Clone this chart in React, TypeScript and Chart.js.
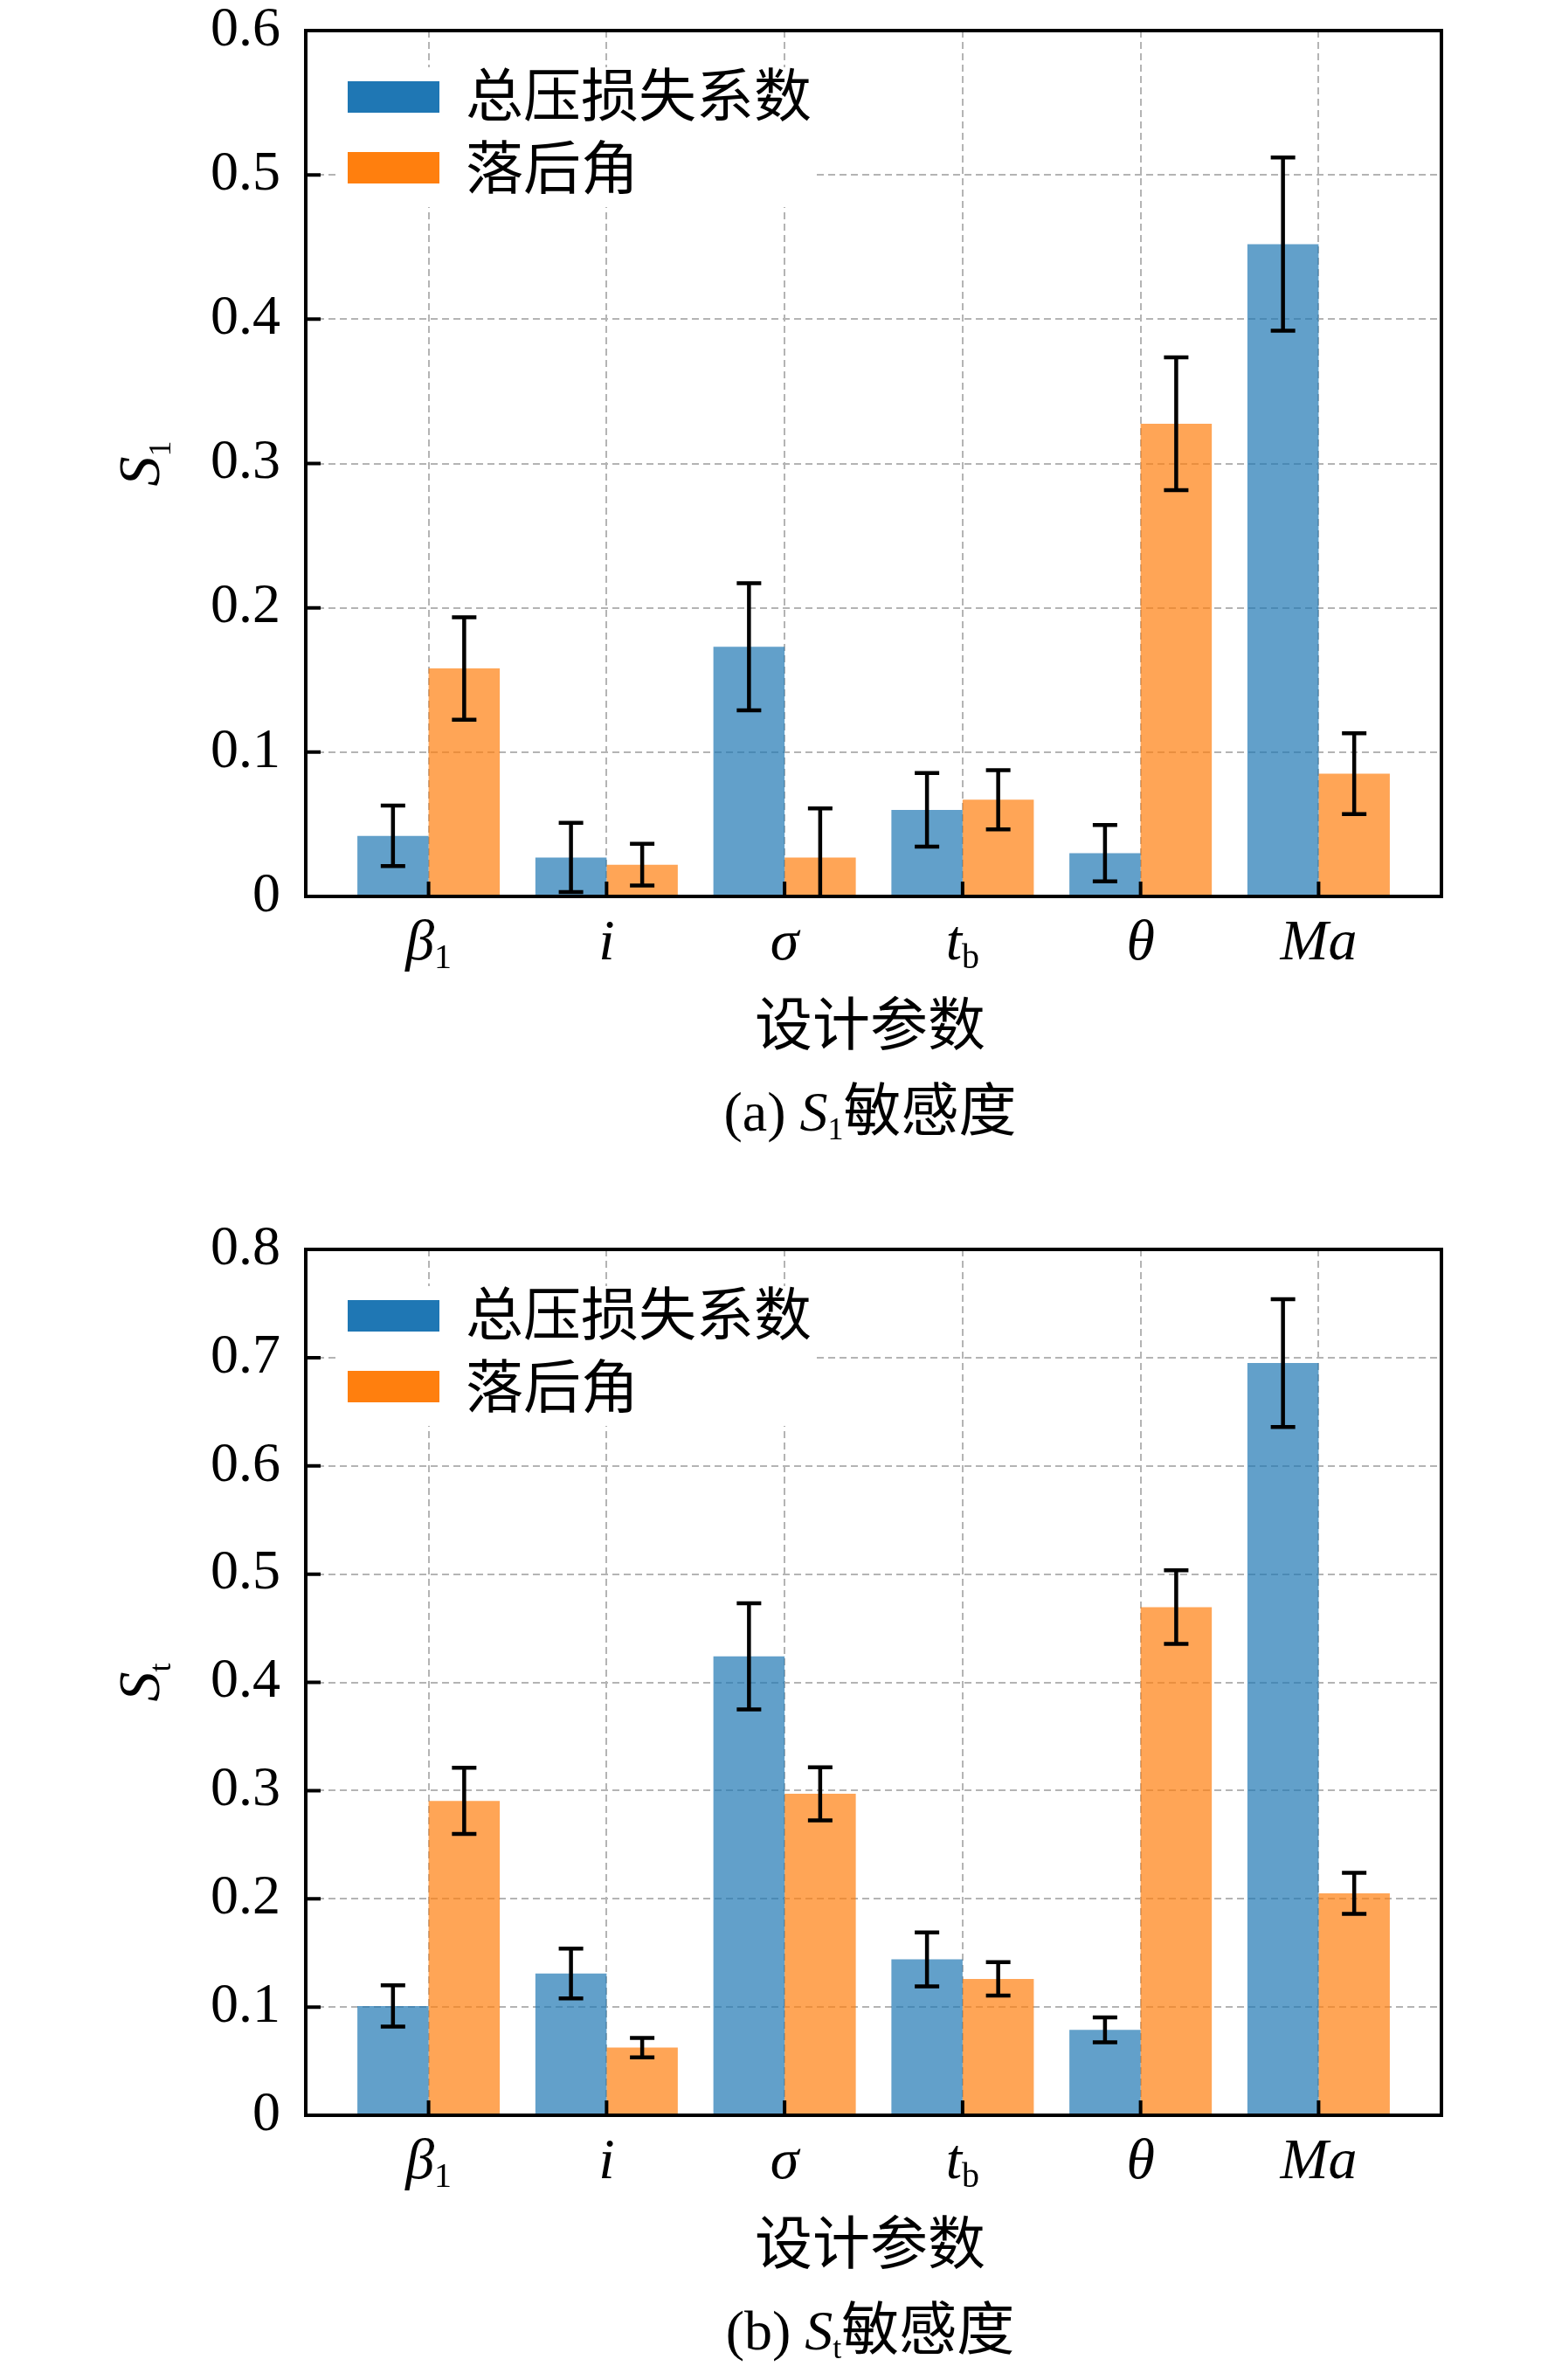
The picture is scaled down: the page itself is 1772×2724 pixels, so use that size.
import { useEffect, useRef } from "react";
import { Chart, registerables } from "chart.js";

Chart.register(...registerables);

// x categories: italic symbol + upright subscript
const tickMain = ["β", "i", "σ", "t", "θ", "Ma"];
const tickSub = ["1", "", "", "b", "", ""];
const seriesNames = ["总压损失系数", "落后角"];

// (a) first-order index S1
const s1Loss = [0.042, 0.027, 0.173, 0.06, 0.03, 0.452];
const s1LossErr = [0.021, 0.024, 0.044, 0.0255, 0.0195, 0.06];
const s1Dev = [0.158, 0.022, 0.027, 0.067, 0.3275, 0.085];
const s1DevErr = [0.0355, 0.0145, 0.034, 0.0205, 0.046, 0.028];

// (b) total index St
const stLoss = [0.101, 0.131, 0.424, 0.144, 0.079, 0.695];
const stLossErr = [0.019, 0.023, 0.049, 0.025, 0.0115, 0.059];
const stDev = [0.2905, 0.0625, 0.297, 0.126, 0.4695, 0.205];
const stDevErr = [0.0305, 0.009, 0.0245, 0.0155, 0.034, 0.019];

const SERIF = '"Liberation Serif", "Times New Roman", serif';
const CJK = '"Noto Sans CJK SC", sans-serif';
const barColors = ["rgba(31, 119, 180, 0.7)", "rgba(255, 127, 14, 0.7)"];
const patchColors = ["#1f77b4", "#ff7f0e"];
const gridColor = "#b4b4b4";

type Run = { text: string; font: string; dy?: number };

// draw several font runs on one baseline
const drawRuns = (
  ctx: CanvasRenderingContext2D,
  runs: Run[],
  x: number,
  y: number,
  align: "center" | "left"
) => {
  ctx.save();
  ctx.fillStyle = "#000";
  ctx.textBaseline = "alphabetic";
  ctx.textAlign = "left";
  const widths = runs.map((r) => {
    ctx.font = r.font;
    return ctx.measureText(r.text).width;
  });
  const total = widths.reduce((acc, w) => acc + w, 0);
  let cx = align === "center" ? x - total / 2 : x;
  runs.forEach((r, i) => {
    ctx.font = r.font;
    ctx.fillText(r.text, cx, y + (r.dy || 0));
    cx += widths[i];
  });
  ctx.restore();
};

type Props = {
  height: number;
  loss: number[];
  lossErr: number[];
  dev: number[];
  devErr: number[];
  yMax: number;
  sub: string;
  letter: string;
};

const SensitivityChart = ({ height, loss, lossErr, dev, devErr, yMax, sub, letter }: Props) => {
  const chartRef = useRef<HTMLCanvasElement>(null);
  const chartInstance = useRef<Chart | null>(null);

  useEffect(() => {
    if (!chartRef.current) return;
    if (chartInstance.current) chartInstance.current.destroy();

    const values = [loss, dev];
    const errors = [lossErr, devErr];

    const decor = {
      id: "decor",
      afterDatasetsDraw(chart: Chart) {
        const { ctx, chartArea: a } = chart;
        const x = chart.scales.x;
        const y = chart.scales.y;

        // error bars
        ctx.save();
        ctx.beginPath();
        ctx.rect(a.left, a.top, a.right - a.left, a.bottom - a.top);
        ctx.clip();
        ctx.strokeStyle = "#000";
        ctx.lineWidth = 4.5;
        values.forEach((vals, di) => {
          const meta = chart.getDatasetMeta(di);
          meta.data.forEach((bar: any, i: number) => {
            const top = y.getPixelForValue(vals[i] + errors[di][i]);
            const bot = y.getPixelForValue(vals[i] - errors[di][i]);
            ctx.beginPath();
            ctx.moveTo(bar.x, top);
            ctx.lineTo(bar.x, bot);
            ctx.moveTo(bar.x - 14, top);
            ctx.lineTo(bar.x + 14, top);
            ctx.moveTo(bar.x - 14, bot);
            ctx.lineTo(bar.x + 14, bot);
            ctx.stroke();
          });
        });
        ctx.restore();

        // legend
        ctx.save();
        ctx.fillStyle = "#fff";
        ctx.fillRect(a.left + 35, a.top + 42, 550, 160);
        seriesNames.forEach((name, k) => {
          ctx.fillStyle = patchColors[k];
          ctx.fillRect(a.left + 48, a.top + 58 + k * 81, 105, 36);
          drawRuns(ctx, [{ text: name, font: `66px ${CJK}` }], a.left + 183, a.top + 98 + k * 83, "left");
        });
        ctx.restore();

        // frame and inward ticks
        ctx.save();
        ctx.strokeStyle = "#000";
        ctx.lineWidth = 4;
        ctx.strokeRect(a.left, a.top, a.right - a.left, a.bottom - a.top);
        ctx.beginPath();
        y.ticks.forEach((t) => {
          const py = y.getPixelForValue(t.value);
          ctx.moveTo(a.left, py);
          ctx.lineTo(a.left + 17, py);
        });
        x.ticks.forEach((t) => {
          const px = x.getPixelForValue(t.value);
          ctx.moveTo(px, a.bottom);
          ctx.lineTo(px, a.bottom - 17);
        });
        ctx.stroke();
        ctx.restore();

        // category labels
        x.ticks.forEach((t, i) => {
          const px = x.getPixelForValue(t.value);
          drawRuns(
            ctx,
            [
              { text: tickMain[i], font: `italic 66px ${SERIF}` },
              { text: tickSub[i], font: `40px ${SERIF}`, dy: 10 },
            ],
            px,
            a.bottom + 72,
            "center"
          );
        });

        // y title
        ctx.save();
        ctx.translate(182, (a.top + a.bottom) / 2);
        ctx.rotate(-Math.PI / 2);
        drawRuns(
          ctx,
          [
            { text: "S", font: `italic 68px ${SERIF}` },
            { text: sub, font: `36px ${SERIF}`, dy: 13 },
          ],
          0,
          0,
          "center"
        );
        ctx.restore();

        const cx = (a.left + a.right) / 2 - 4;
        drawRuns(ctx, [{ text: "设计参数", font: `66px ${CJK}` }], cx, a.bottom + 170, "center");
        drawRuns(
          ctx,
          [
            { text: `(${letter}) `, font: `64px ${SERIF}` },
            { text: "S", font: `italic 64px ${SERIF}` },
            { text: sub, font: `36px ${SERIF}`, dy: 10 },
            { text: "敏感度", font: `66px ${CJK}` },
          ],
          cx,
          a.bottom + 268,
          "center"
        );
      },
    };

    const borderOpts = { display: false, dash: [8, 5] };

    chartInstance.current = new Chart(chartRef.current, {
      type: "bar",
      data: {
        datasets: values.map((vals, di) => ({
          label: seriesNames[di],
          data: vals.map((v, i) => ({ x: i, y: v })),
          backgroundColor: barColors[di],
          borderWidth: 0,
          categoryPercentage: 0.8,
          barPercentage: 1,
        })),
      },
      options: {
        animation: false,
        responsive: false,
        devicePixelRatio: 1,
        layout: { padding: { left: 0, top: 35, right: 122, bottom: height - 1026 } },
        plugins: {
          legend: { display: false },
          tooltip: { enabled: false },
        },
        scales: {
          x: {
            type: "linear",
            min: -0.69,
            max: 5.69,
            offset: false,
            afterBuildTicks: (scale: any) => {
              scale.ticks = tickMain.map((_, i) => ({ value: i }));
            },
            afterFit: (scale: any) => {
              scale.height = 0;
              scale.paddingLeft = 0;
              scale.paddingRight = 0;
            },
            ticks: { display: false },
            grid: { color: gridColor, lineWidth: 2, drawTicks: false, offset: false },
            border: borderOpts,
          },
          y: {
            min: 0,
            max: yMax,
            ticks: {
              stepSize: 0.1,
              color: "#000",
              padding: 29,
              font: { family: SERIF, size: 64, lineHeight: 1 },
            },
            afterFit: (scale: any) => {
              scale.width = 350;
              scale.paddingTop = 0;
              scale.paddingBottom = 0;
            },
            grid: { color: gridColor, lineWidth: 2, drawTicks: false },
            border: borderOpts,
          },
        },
      },
      plugins: [decor],
    } as any);

    return () => {
      if (chartInstance.current) {
        chartInstance.current.destroy();
        chartInstance.current = null;
      }
    };
  }, []);

  return (
    <canvas
      ref={chartRef}
      width={1772}
      height={height}
      style={{ display: "block", width: 1772, height }}
    ></canvas>
  );
};

export default function App() {
  useEffect(() => {
    document.body.style.margin = "0";
    document.body.style.background = "#fff";
  }, []);

  return (
    <div style={{ width: 1772, background: "#fff" }}>
      <SensitivityChart
        height={1395}
        loss={s1Loss}
        lossErr={s1LossErr}
        dev={s1Dev}
        devErr={s1DevErr}
        yMax={0.6}
        sub="1"
        letter="a"
      />
      <SensitivityChart
        height={1329}
        loss={stLoss}
        lossErr={stLossErr}
        dev={stDev}
        devErr={stDevErr}
        yMax={0.8}
        sub="t"
        letter="b"
      />
    </div>
  );
}
